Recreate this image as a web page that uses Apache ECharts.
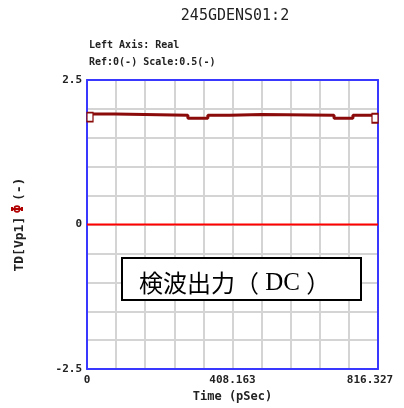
<!DOCTYPE html>
<html>
<head>
<meta charset="utf-8">
<script src="https://cdn.jsdelivr.net/npm/echarts@6/dist/echarts.min.js"></script>
<style>html,body{margin:0;padding:0;background:#fff}#c{width:404px;height:408px}</style>
</head>
<body>
<div id="c"></div>
<script>
// Data
const timeAxisMax = 816.327;
const stepTimes  = [0, 78.5, 283, 339, 401, 491, 693, 746, 816.327];
const stepValues = [1.91, 1.89, 1.84, 1.89, 1.905, 1.89, 1.84, 1.89, 1.89];
const zeroTimes  = [0, 816.327];
const zeroValues = [0, 0];
const xTickLabels = ['0', '408.163', '816.327'];
const yTickLabels = ['-2.5', '0', '2.5'];
const chartTitle = '245GDENS01:2';
const subLines = ['Left Axis: Real', 'Ref:0(-) Scale:0.5(-)'];
const annotation = '検波出力';

const chart = echarts.init(document.getElementById('c'));
const xStep = timeAxisMax / 10;
const mono = "'DejaVu Sans Mono', monospace";
const blue = '#3838ff';

const lineData = stepTimes.map((t, i) => {
  const item = { value: [t, stepValues[i]] };
  if (i === 0) { item.symbol = 'rect'; item.symbolOffset = [3, 3]; }
  else if (i === stepTimes.length - 1) { item.symbol = 'rect'; item.symbolOffset = [-3, 3]; }
  else { item.symbol = 'none'; }
  return item;
});

const blueLine = { show: true, onZero: false, lineStyle: { color: blue, width: 2 } };
const frameAxis = { show: true, axisLine: blueLine,
  axisTick: { show: false }, axisLabel: { show: false }, splitLine: { show: false } };

chart.setOption({
  animation: false,
  backgroundColor: '#fff',
  title: [
    { text: chartTitle, left: 230, top: 4, textAlign: 'center',
      textStyle: { fontFamily: mono, fontSize: 15, fontWeight: 'normal', color: '#222' } },
    { text: subLines.join('\n'), left: 84, top: 32,
      textStyle: { fontFamily: mono, fontSize: 10, fontWeight: 'bold', color: '#222', lineHeight: 17 } }
  ],
  grid: { left: 87, right: 26, top: 80, bottom: 36 },
  xAxis: [{
    type: 'value', min: 0, max: timeAxisMax, interval: xStep,
    name: 'Time (pSec)', nameLocation: 'middle', nameGap: 21,
    nameTextStyle: { fontFamily: mono, fontSize: 12, fontWeight: 'bold', color: '#222' },
    axisLine: blueLine,
    axisTick: { show: false },
    splitLine: { show: true, lineStyle: { color: '#d4d4d4', width: 2 } },
    axisLabel: {
      margin: 6, fontFamily: mono, fontSize: 11, fontWeight: 'bold', color: '#222',
      formatter: v => {
        const k = Math.round(v / xStep);
        if (k % 5 !== 0) return '';
        return k === 10 ? '{e|' + xTickLabels[2] + '}' : xTickLabels[k / 5];
      },
      rich: { e: { fontFamily: mono, fontSize: 11, fontWeight: 'bold', color: '#222', padding: [0, 16, 0, 0] } }
    }
  }, Object.assign({ type: 'value', position: 'top', min: 0, max: timeAxisMax }, frameAxis)],
  yAxis: [{
    type: 'value', min: -2.5, max: 2.5, interval: 0.5,
    name: '{n|TD[Vp1]} {s|Φ} {n|(-)}', nameLocation: 'middle', nameGap: 60, nameRotate: 90,
    nameTextStyle: {
      rich: {
        n: { fontFamily: mono, fontSize: 13, fontWeight: 'bold', color: '#222' },
        s: { fontFamily: mono, fontSize: 15, fontWeight: 'bold', color: '#b00000' }
      }
    },
    axisLine: blueLine,
    axisTick: { show: false },
    splitLine: { show: true, lineStyle: { color: '#d4d4d4', width: 2 } },
    axisLabel: {
      margin: 5, fontFamily: mono, fontSize: 11, fontWeight: 'bold', color: '#222',
      formatter: v => { const k = Math.round((v + 2.5) / 0.5); return k % 5 === 0 ? yTickLabels[k / 5] : ''; }
    }
  }, Object.assign({ type: 'value', position: 'right', min: -2.5, max: 2.5 }, frameAxis)],
  series: [
    { type: 'line', data: zeroTimes.map((t, i) => [t, zeroValues[i]]), symbol: 'none',
      lineStyle: { color: '#ff0000', width: 2 }, z: 3 },
    { type: 'line', data: lineData, step: 'end', symbolSize: [6, 9], showAllSymbol: true,
      lineStyle: { color: '#8b0a0a', width: 3 },
      itemStyle: { color: '#fff', borderColor: '#8b0a0a', borderWidth: 1.5 }, z: 4 }
  ],
  graphic: [
    { type: 'rect', shape: { x: 122, y: 258, width: 239, height: 42 },
      style: { fill: '#fff', stroke: '#000', lineWidth: 2 }, z: 100 },
    { type: 'text', x: 139, y: 283, z: 101,
      style: {
        text: '{c|' + annotation + '（}{d| DC }{c|）}', verticalAlign: 'middle',
        rich: {
          c: { fontFamily: "'Noto Sans CJK JP'", fontSize: 24, fill: '#000' },
          d: { fontFamily: "'Liberation Serif'", fontSize: 25, fill: '#000' }
        }
      } }
  ]
});
</script>
</body>
</html>
